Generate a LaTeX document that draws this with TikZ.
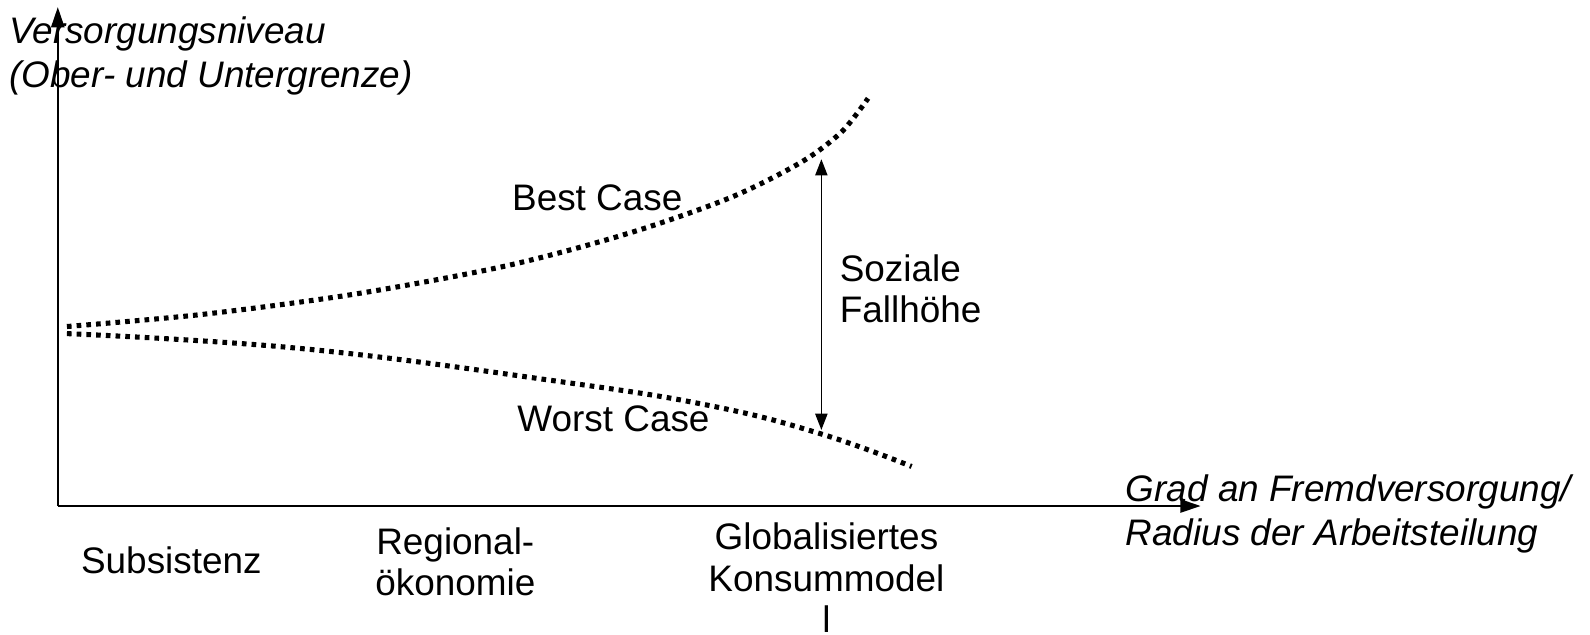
\documentclass[tikz,border=0pt]{standalone}
\usepackage{fontspec}
\setmainfont{Liberation Sans}
\usetikzlibrary{arrows.meta}
\tikzset{
  lbl/.style={inner sep=0pt, font=\fontsize{36.4}{41}\selectfont, align=center},
  axlbl/.style={lbl, font=\fontsize{36.4}{44}\selectfont\itshape, align=left},
  axis/.style={line width=2pt, -{Triangle[length=20pt,width=13pt]}},
  bound/.style={line width=5pt, dash pattern=on 4.6pt off 5pt},
  span/.style={line width=1.6pt, {Triangle[length=16pt,width=12pt]}-{Triangle[length=16pt,width=12pt]}}
}
\begin{document}
\begin{tikzpicture}[x=1pt, y=-1pt]
\useasboundingbox (0,0) rectangle (1568,626);

% axes
\coordinate (O) at (57,499);
\coordinate (ytip) at (57,7);
\coordinate (xtip) at (1184,499);
\draw[axis] (O) -- (ytip);
\draw[axis] (O) -- (xtip);

% upper and lower bound of the supply level
\draw[bound] plot[smooth, tension=0.5] coordinates
  {(66,322) (200,310) (350,290) (500,262) (620,230) (720,195) (790,160) (830,130) (856,97)};
\draw[bound] plot[smooth, tension=0.7] coordinates
  {(66,329) (300,344) (550,376) (700,400) (810,428) (899,460)};

% social drop height
\coordinate (fa) at (810,157);
\coordinate (fb) at (810,424);
\draw[span] (fa) -- (fb);

% labels
\node[lbl] (best) at (589,195) {Best Case};
\node[lbl] (worst) at (605,413) {Worst Case};
\node[lbl, align=left, anchor=west] (fall) at (828,285) {Soziale\\Fallhöhe};

\node[lbl] (subs) at (169,553) {Subsistenz};
\node[lbl] (reg) at (449,554) {Regional-\\ökonomie};
\node[lbl] (glob) at (815,570) {Globalisiertes\\Konsummodel\\l};

\node[axlbl, anchor=west] (ylab) at (9,55) {Versorgungsniveau\\(Ober- und Untergrenze)};
\node[axlbl, anchor=west] (xlab) at (1110,507) {Grad an Fremdversorgung/\\Radius der Arbeitsteilung};
\end{tikzpicture}
\end{document}
